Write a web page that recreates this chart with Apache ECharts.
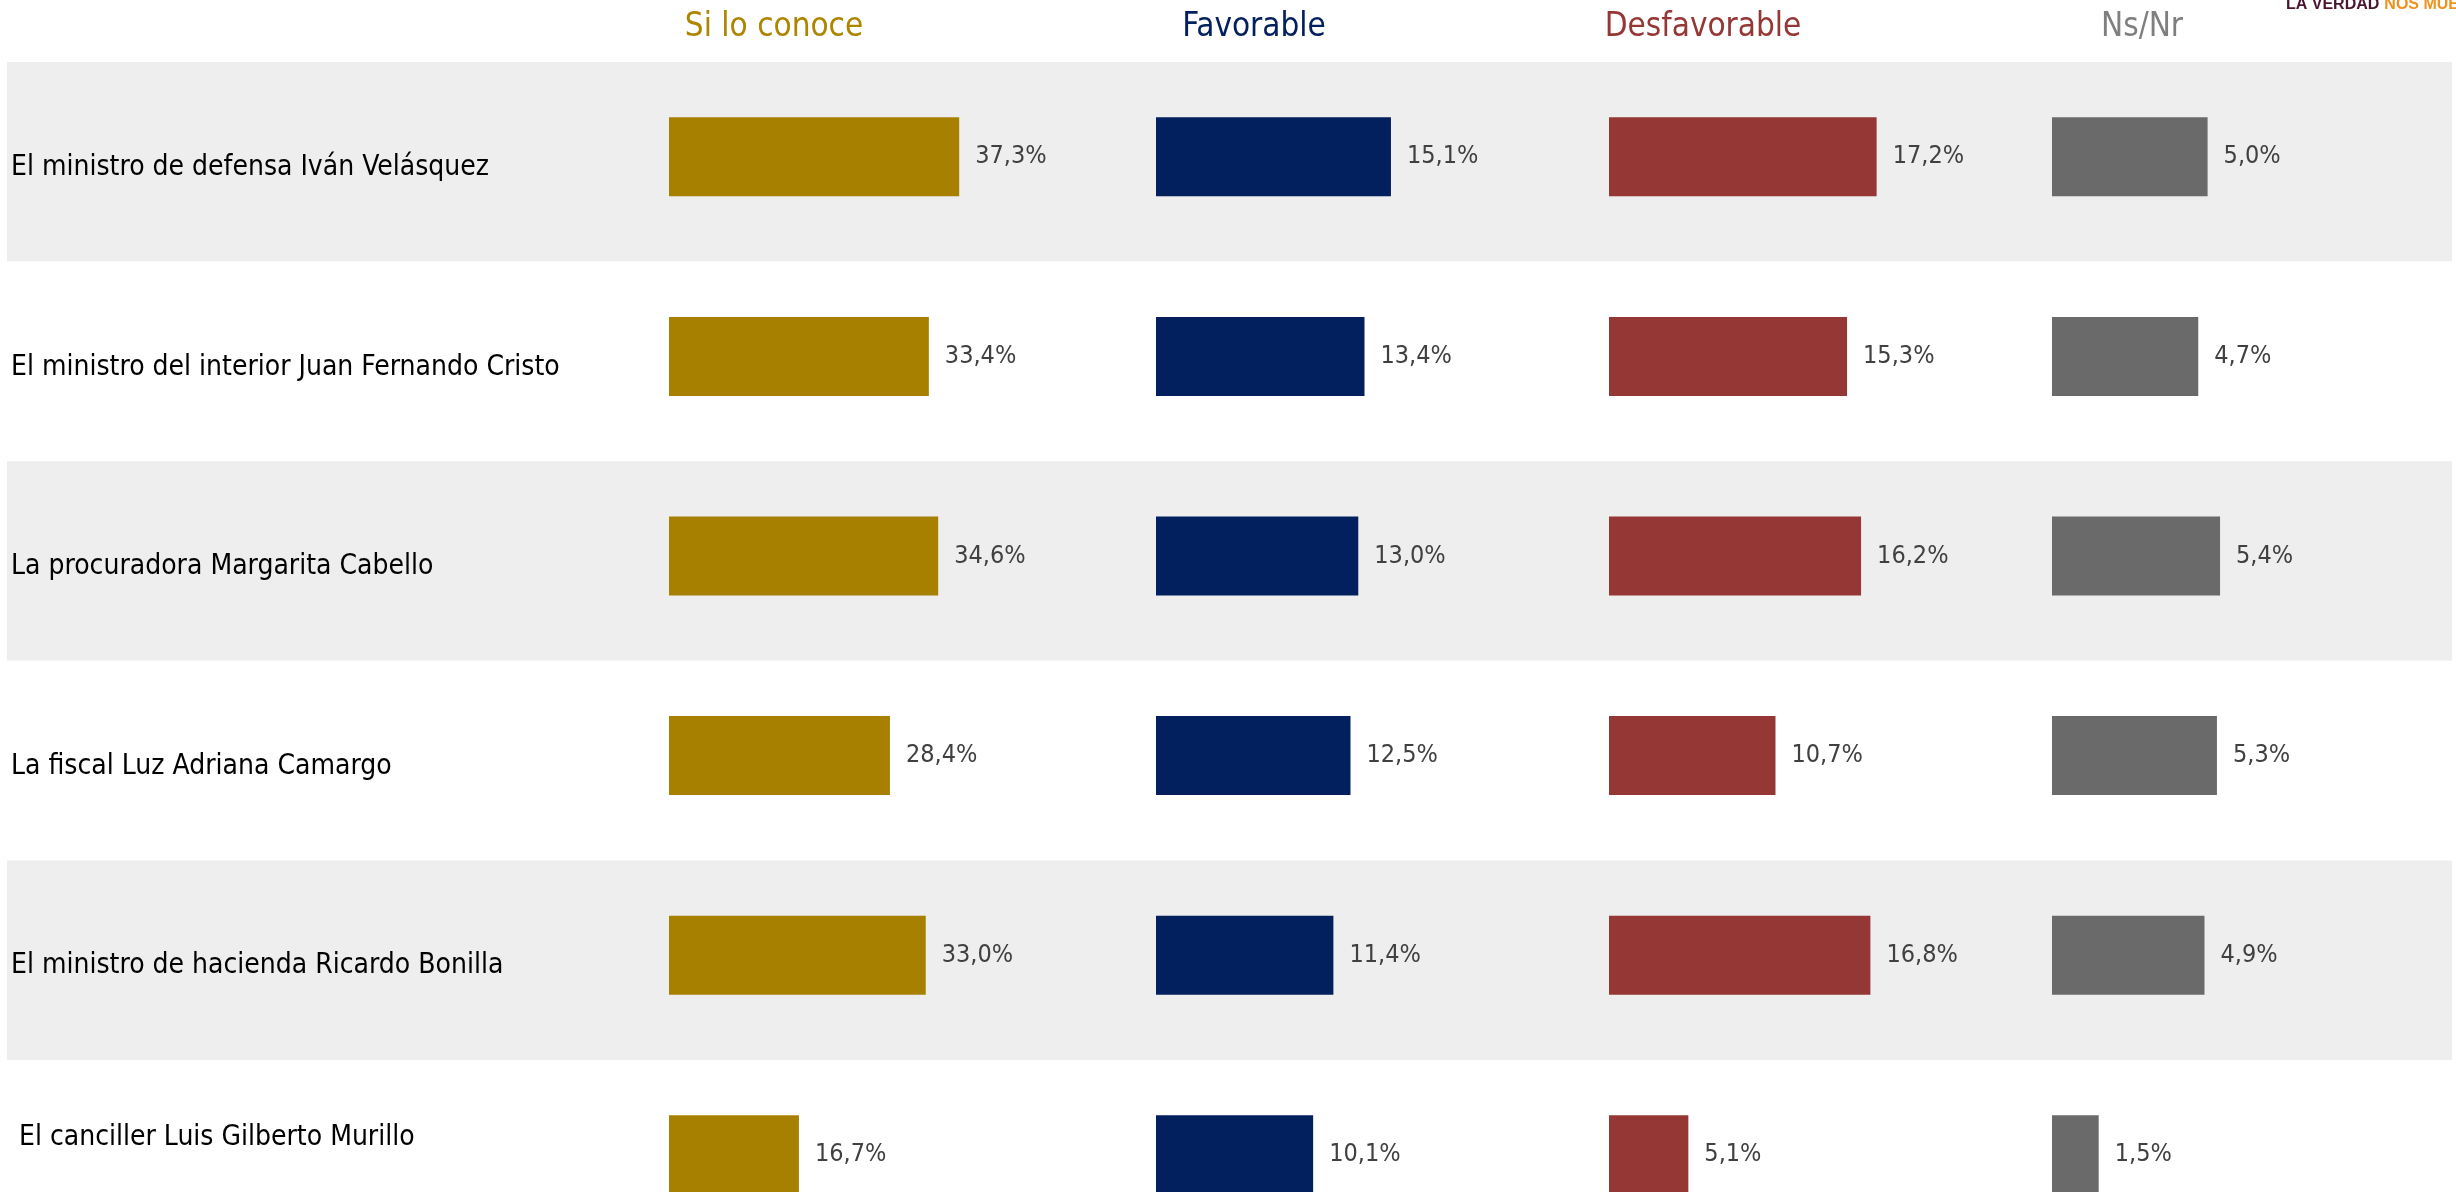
<!DOCTYPE html>
<html>
<head>
<meta charset="utf-8">
<script src="https://cdn.jsdelivr.net/npm/echarts@6/dist/echarts.min.js"></script>
<style>
  html, body { margin: 0; padding: 0; background: #fff; overflow: hidden; }
  /* taller than the window: the last row runs past the bottom edge, as in the source */
  #chart { width: 2456px; height: 1270px; }
</style>
</head>
<body>
<div id="chart"></div>
<script>
var categories = [
  'El ministro de defensa Iván Velásquez',
  'El ministro del interior Juan Fernando Cristo',
  'La procuradora Margarita Cabello',
  'La fiscal Luz Adriana Camargo',
  'El ministro de hacienda Ricardo Bonilla',
  'El canciller Luis Gilberto Murillo'
];
var siLoConoce = [37.3, 33.4, 34.6, 28.4, 33.0, 16.7];
var favorable = [15.1, 13.4, 13.0, 12.5, 11.4, 10.1];
var desfavorable = [17.2, 15.3, 16.2, 10.7, 16.8, 5.1];
var nsNr = [5.0, 4.7, 5.4, 5.3, 4.9, 1.5];
var headers = ['Si lo conoce', 'Favorable', 'Desfavorable', 'Ns/Nr'];

var FONT = "'Liberation Sans Narrow', 'DejaVu Sans Condensed', 'Open Sans', sans-serif";
var ROWS_H = 1197.6;   // 6 rows of ~199.6px

// one small grid per column, each with its own scale (like the source slide)
var groups = [
  { data: siLoConoce, bar: '#A88000', head: '#AD8500', left: 669, max: 50, cx: 774 },
  { data: favorable, bar: '#02205E', head: '#02205E', left: 1156, max: 25, cx: 1254 },
  { data: desfavorable, bar: '#953735', head: '#953735', left: 1609, max: 25, cx: 1703 },
  { data: nsNr, bar: '#6A6A6A', head: '#7F7F7F', left: 2052, max: 12.5, cx: 2142 }
];

function pct(v) { return v.toFixed(1).replace('.', ',') + '%'; }

var grids = [{ left: 7, right: 4, top: 62, height: ROWS_H }];
var xAxes = [{ type: 'value', gridIndex: 0, show: false }];
var yAxes = [{
  type: 'category',
  gridIndex: 0,
  inverse: true,
  data: categories.map(function (c, i) {
    // last label sits higher and slightly indented in the original
    if (i !== categories.length - 1) return c;
    return { value: c, textStyle: { verticalAlign: 'bottom', lineHeight: 44, padding: [0, 0, 0, 8] } };
  }),
  axisLine: { show: false },
  axisTick: { show: false },
  // labels sit a few px below the band centre
  axisLabel: { inside: true, margin: 4, verticalAlign: 'top', lineHeight: 12, color: '#000', fontSize: 28, fontFamily: FONT },
  splitLine: { show: false },
  splitArea: { show: true, areaStyle: { color: ['#EEEEEE', '#FFFFFF'] } }
}];
var series = [];
var titles = [];

groups.forEach(function (g, i) {
  var k = i + 1;
  grids.push({ left: g.left, width: 389, top: 57, height: ROWS_H });
  xAxes.push({ type: 'value', gridIndex: k, min: 0, max: g.max, show: false });
  yAxes.push({ type: 'category', gridIndex: k, inverse: true, data: categories, show: false });
  series.push({
    type: 'bar',
    name: headers[i],
    xAxisIndex: k,
    yAxisIndex: k,
    data: g.data,
    barWidth: 79,
    itemStyle: { color: g.bar },
    label: {
      show: true,
      position: 'right',
      distance: 16,
      color: '#404040',
      fontSize: 25,
      fontFamily: FONT,
      formatter: function (p) { return pct(p.value); }
    }
  });
  titles.push({
    text: headers[i],
    left: g.cx,
    top: 11,
    padding: 0,
    textAlign: 'center',
    textStyle: { color: g.head, fontSize: 33, fontWeight: 'normal', fontFamily: FONT }
  });
});

// corner brand text, clipped by the right edge like the source
titles.push({
  text: '{a|LA VERDAD} {b|NOS MUEVE}',
  left: 2286,
  top: -4,
  padding: 0,
  textStyle: {
    rich: {
      a: { color: '#4A1530', fontSize: 16, fontWeight: 'bold', fontFamily: "'Liberation Sans', Arial, sans-serif" },
      b: { color: '#EE9220', fontSize: 16, fontWeight: 'bold', fontFamily: "'Liberation Sans', Arial, sans-serif" }
    }
  }
});

var chart = echarts.init(document.getElementById('chart'));
chart.setOption({
  animation: false,
  backgroundColor: '#fff',
  title: titles,
  grid: grids,
  xAxis: xAxes,
  yAxis: yAxes,
  series: series
});
</script>
</body>
</html>
